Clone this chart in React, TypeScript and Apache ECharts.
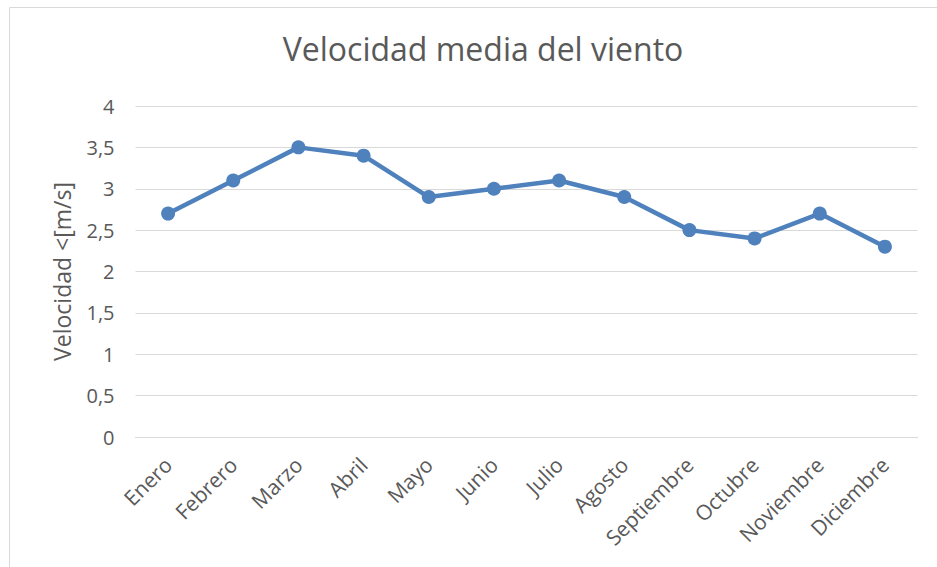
import React, { useEffect, useRef } from "react";
import * as echarts from "echarts";

const months = ["Enero", "Febrero", "Marzo", "Abril", "Mayo", "Junio", "Julio", "Agosto", "Septiembre", "Octubre", "Noviembre", "Diciembre"];
const speeds = [2.7, 3.1, 3.5, 3.4, 2.9, 3.0, 3.1, 2.9, 2.5, 2.4, 2.7, 2.3];
const yTicks = { min: 0, max: 4, interval: 0.5 };

export default function App() {
  const ref = useRef<HTMLDivElement>(null);
  useEffect(() => {
    if (!ref.current) return;
    const chart = echarts.init(ref.current, undefined, { renderer: "svg" });
    const font = "'Open Sans', 'Noto Sans', sans-serif";
    chart.setOption({
      animation: false,
      backgroundColor: "#ffffff",
      textStyle: { fontFamily: font },
      title: {
        text: "Velocidad media del viento",
        left: 478,
        textAlign: "center",
        top: 27,
        textStyle: { fontFamily: font, fontSize: 32, fontWeight: "normal", color: "#595959" },
      },
      graphic: [
        {
          type: "rect",
          shape: { x: 9.5, y: 7.5, width: 940, height: 570 },
          style: { fill: "none", stroke: "#d9d9d9", lineWidth: 1 },
          silent: true,
        },
      ],
      grid: { left: 135.5, right: 19.5, top: 106, bottom: 130, containLabel: false },
      xAxis: {
        type: "category",
        data: months,
        boundaryGap: true,
        axisLine: { show: true, lineStyle: { color: "#d9d9d9", width: 1 } },
        axisTick: { show: false },
        axisLabel: { rotate: 45, color: "#595959", fontSize: 21, fontFamily: font, margin: 24, interval: 0 },
      },
      yAxis: {
        type: "value",
        min: yTicks.min,
        max: yTicks.max,
        interval: yTicks.interval,
        name: "Velocidad <[m/s]",
        nameLocation: "middle",
        nameGap: 62,
        nameTextStyle: { color: "#595959", fontSize: 23, fontFamily: font },
        axisLine: { show: false },
        axisTick: { show: false },
        splitLine: { lineStyle: { color: "#d9d9d9", width: 1 } },
        axisLabel: {
          color: "#595959",
          fontSize: 20,
          fontFamily: font,
          margin: 21,
          formatter: (v: number) => String(v).replace(".", ","),
        },
      },
      series: [
        {
          type: "line",
          data: speeds,
          symbol: "circle",
          symbolSize: 14,
          lineStyle: { color: "#4F81BD", width: 4.5 },
          itemStyle: { color: "#4F81BD" },
        },
      ],
    });
    return () => chart.dispose();
  }, []);
  return <div ref={ref} style={{ position: "fixed", left: 0, top: 0, width: 937, height: 567 }} />;
}
